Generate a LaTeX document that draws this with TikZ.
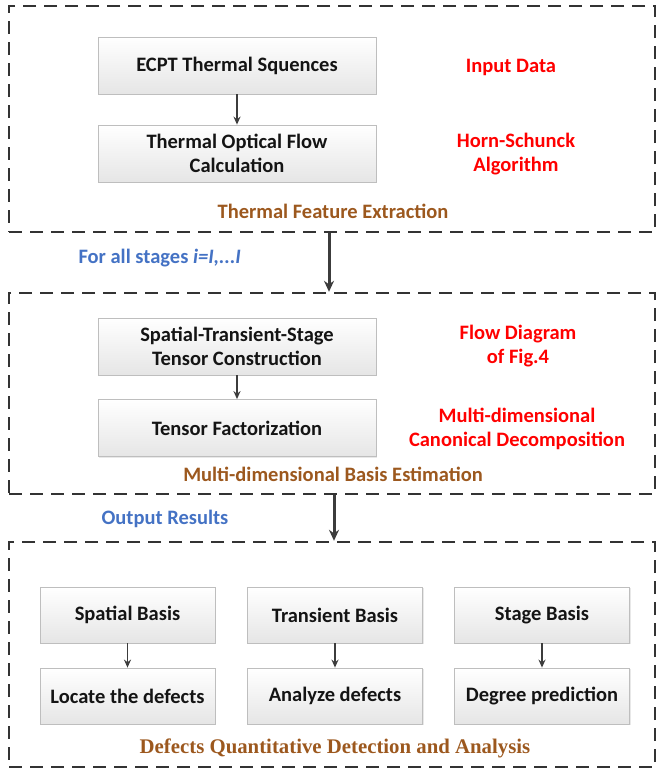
\documentclass[tikz,border=0pt]{standalone}
\usepackage{fontspec}
\setmainfont{Carlito}
\newfontfamily\timesf{Liberation Serif}
\usetikzlibrary{arrows.meta,shadows}
\definecolor{redlab}{RGB}{255,0,0}
\definecolor{brownlab}{RGB}{156,88,30}
\definecolor{bluelab}{RGB}{68,114,196}
\definecolor{boxline}{RGB}{190,190,190}
\definecolor{arrowc}{RGB}{60,60,60}
\tikzset{
  stagebox/.style={draw=black!80, line width=2.4pt, dash pattern=on 13pt off 8pt, minimum width=646pt, inner sep=0pt},
  pbox/.style={draw=boxline, line width=0.8pt, top color=white, bottom color=black!10, minimum height=57pt, inner sep=0pt, align=center, font=\bfseries\fontsize{20.5}{24}\selectfont, text=black!92, drop shadow={opacity=0.18, shadow xshift=1.2pt, shadow yshift=-1.2pt}},
  widebox/.style={pbox, minimum width=278pt},
  smallbox/.style={pbox, minimum width=175pt, minimum height=56pt},
  redtext/.style={align=center, text=redlab, font=\bfseries\fontsize{20.5}{24}\selectfont},
  browntext/.style={text=brownlab, font=\bfseries\fontsize{20.5}{24}\selectfont},
  bluetext/.style={text=bluelab, font=\bfseries\fontsize{20.5}{24}\selectfont, anchor=west},
  smallarrow/.style={draw=arrowc, line width=1.5pt, -{Stealth[length=8pt,width=7pt]}},
  bigarrow/.style={draw=arrowc, line width=3pt, -{Stealth[length=11pt,width=10pt]}},
}
\begin{document}
\begin{tikzpicture}[x=1pt,y=-1pt]
\useasboundingbox (0,0) rectangle (657,772);
% stage boxes
\node[stagebox, minimum height=226pt] (b1) at (332,119) {};
\node[stagebox, minimum height=201pt] (b2) at (332,393.5) {};
\node[stagebox, minimum height=225pt] (b3) at (332,654.5) {};
% stage 1
\node[widebox] (ecpt) at (237,65.5) {ECPT Thermal Squences};
\node[widebox] (flow) at (237,153.5) {Thermal Optical Flow\\Calculation};
\node[redtext] (input) at (511,67) {Input Data};
\node[redtext] (horn) at (516,154) {Horn-Schunck\\Algorithm};
\node[browntext] (tfe) at (333,211) {Thermal Feature Extraction};
\draw[smallarrow] (ecpt) -- (flow);
% between
\node[bluetext] (stages) at (75,258) {For all stages \textit{i=I,...I}};
\draw[bigarrow] ([xshift=-3pt]b1.south) -- ([xshift=-3pt]b2.north);
% stage 2
\node[widebox] (stc) at (237,346.5) {Spatial-Transient-Stage\\Tensor Construction};
\node[widebox] (tf) at (237,428) {Tensor Factorization};
\node[redtext] (fig4) at (518,346) {Flow Diagram\\of Fig.4};
\node[redtext] (mcd) at (517,428.5) {Multi-dimensional\\Canonical Decomposition};
\node[browntext] (mbe) at (333,474) {Multi-dimensional Basis Estimation};
\draw[smallarrow] (stc) -- (tf);
% between
\node[bluetext] (out) at (98,519) {Output Results};
\draw[bigarrow] ([xshift=2pt]b2.south) -- ([xshift=2pt]b3.north);
% stage 3
\node[smallbox] (sb) at (127.5,615) {Spatial Basis};
\node[smallbox] (tb) at (335,615) {Transient Basis};
\node[smallbox] (gb) at (542,615) {Stage Basis};
\node[smallbox] (ld) at (127.5,696) {Locate the defects};
\node[smallbox] (ad) at (335,696) {Analyze defects};
\node[smallbox] (dp) at (542,696) {Degree prediction};
\draw[smallarrow] (sb) -- (ld);
\draw[smallarrow] (tb) -- (ad);
\draw[smallarrow] (gb) -- (dp);
\node[text=brownlab, font=\timesf\bfseries\fontsize{20.8}{24}\selectfont] (dqd) at (335,748) {Defects Quantitative Detection and Analysis};
\end{tikzpicture}
\end{document}
